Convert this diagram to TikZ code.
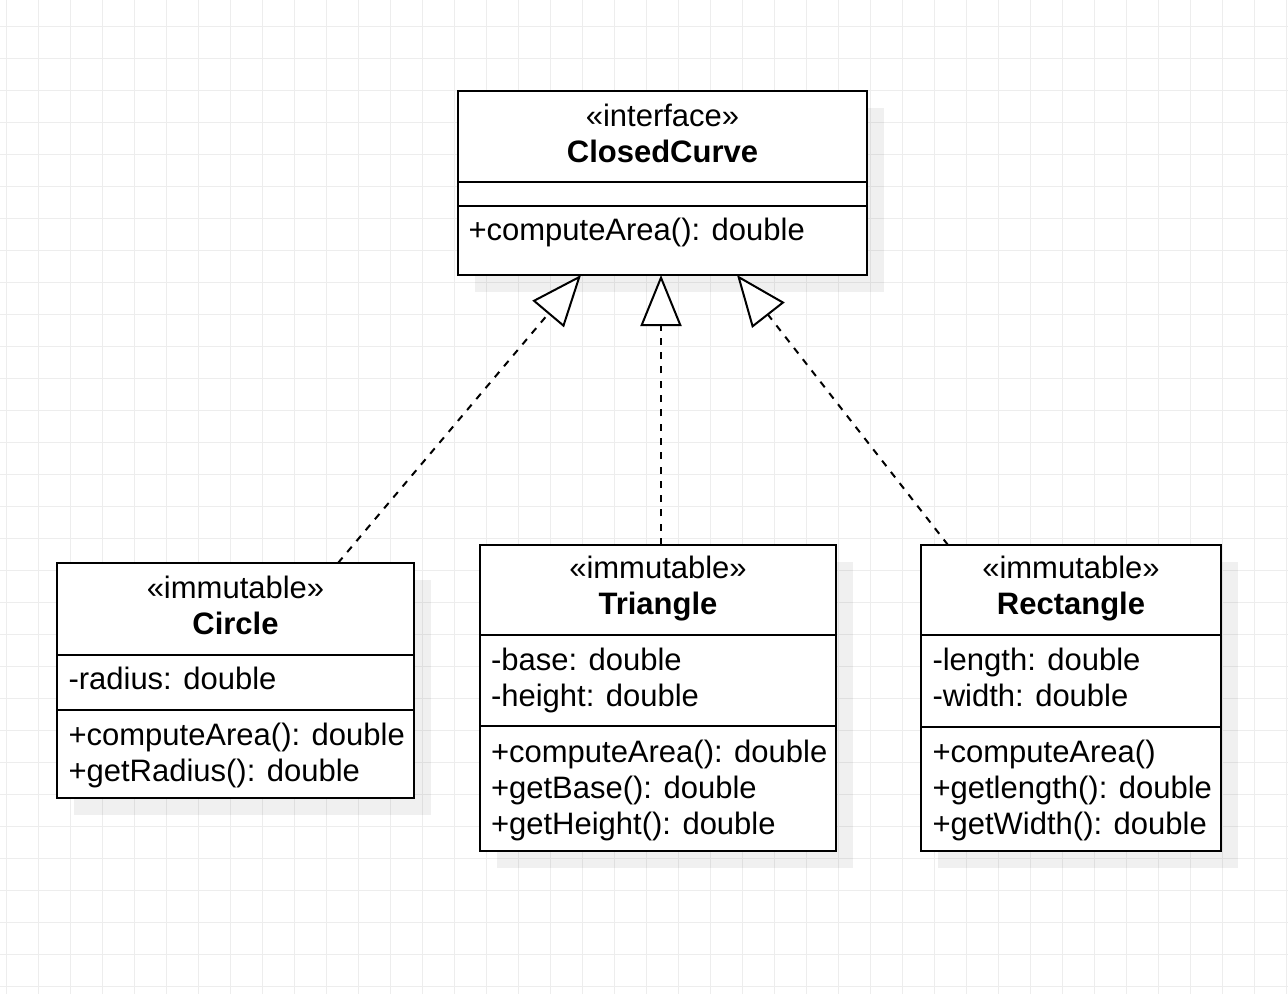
\documentclass[tikz,border=0pt]{standalone}
\usepackage{fontspec}
\setmainfont{Liberation Sans}
\usetikzlibrary{arrows.meta,calc,backgrounds}
\definecolor{gridgray}{RGB}{237,237,237}
\tikzset{
  gridline/.style={draw=gridgray, line width=1pt},
  shadowbox/.style={fill=black, fill opacity=0.06, draw=none},
  classbox/.style={draw=black, fill=white, line width=2pt, inner sep=0pt, outer sep=0pt},
  sepline/.style={draw=black, line width=2pt},
  txt/.style={inner sep=0pt, outer sep=0pt, font=\fontsize{31}{36}\selectfont, anchor=base west},
  ttl/.style={txt, anchor=base},
  btl/.style={ttl, font=\fontsize{31}{36}\selectfont\bfseries},
  realize/.style={draw=black, line width=2pt, dash pattern=on 7pt off 7.3pt,
    -{Triangle[open, length=51pt, width=41pt, fill=white]}}
}
\begin{document}
\begin{tikzpicture}[x=1pt,y=-1pt]
\useasboundingbox (0,0) rectangle (1288,994);

% class boxes
\node[classbox, minimum width=409pt, minimum height=184pt] (cc) at (662.5,183) {};
\node[classbox, minimum width=357pt, minimum height=235pt] (circ) at (235.5,680.5) {};
\node[classbox, minimum width=356pt, minimum height=306pt] (tri) at (658,698) {};
\node[classbox, minimum width=300pt, minimum height=306pt] (rect) at (1071,698) {};

% compartments
\draw[sepline] (cc.west |- 0,182) -- (cc.east |- 0,182);
\draw[sepline] (cc.west |- 0,206) -- (cc.east |- 0,206);
\draw[sepline] (circ.west |- 0,655) -- (circ.east |- 0,655);
\draw[sepline] (circ.west |- 0,710) -- (circ.east |- 0,710);
\draw[sepline] (tri.west |- 0,635) -- (tri.east |- 0,635);
\draw[sepline] (tri.west |- 0,726) -- (tri.east |- 0,726);
\draw[sepline] (rect.west |- 0,635) -- (rect.east |- 0,635);
\draw[sepline] (rect.west |- 0,727) -- (rect.east |- 0,727);

% ClosedCurve texts
\node[ttl] (cc-st) at (662.5,126) {«interface»};
\node[btl] (cc-nm) at (662.5,162) {ClosedCurve};
\node[txt] (cc-m1) at (468.5,240) {+computeArea(): double};

% Circle texts
\node[ttl] (ci-st) at (235.5,598.5) {«immutable»};
\node[btl] (ci-nm) at (235.5,634.5) {Circle};
\node[txt] (ci-a1) at (68.5,689) {-radius: double};
\node[txt] (ci-m1) at (68.5,745) {+computeArea(): double};
\node[txt] (ci-m2) at (68.5,781) {+getRadius(): double};

% Triangle texts
\node[ttl] (tr-st) at (658,578.5) {«immutable»};
\node[btl] (tr-nm) at (658,614.5) {Triangle};
\node[txt] (tr-a1) at (491,670.5) {-base: double};
\node[txt] (tr-a2) at (491,706.5) {-height: double};
\node[txt] (tr-m1) at (491,762) {+computeArea(): double};
\node[txt] (tr-m2) at (491,798) {+getBase(): double};
\node[txt] (tr-m3) at (491,834) {+getHeight(): double};

% Rectangle texts
\node[ttl] (re-st) at (1071,578.5) {«immutable»};
\node[btl] (re-nm) at (1071,614.5) {Rectangle};
\node[txt] (re-a1) at (932.5,670.5) {-length: double};
\node[txt] (re-a2) at (932.5,706.5) {-width: double};
\node[txt] (re-m1) at (932.5,762) {+computeArea()};
\node[txt] (re-m2) at (932.5,798) {+getlength(): double};
\node[txt] (re-m3) at (932.5,834) {+getWidth(): double};

% connector end points
\coordinate (cc-l) at ($(cc.south west)+(123,0)$);
\coordinate (cc-m) at ($(cc.south west)+(203,0)$);
\coordinate (cc-r) at ($(cc.south west)+(279,0)$);
\coordinate (circ-t) at ($(circ.north west)+(281,0)$);
\coordinate (tri-t) at ($(tri.north west)+(181,0)$);
\coordinate (rect-t) at ($(rect.north west)+(27,0)$);

\draw[realize] (circ-t) -- (cc-l);
\draw[realize] (tri-t) -- (cc-m);
\draw[realize] (rect-t) -- (cc-r);

\begin{pgfonlayer}{background}
  \fill[white] (0,0) rectangle (1288,994);
  \foreach \gx in {6,38,...,1286} \draw[gridline] (\gx,0) -- (\gx,994);
  \foreach \gy in {26,58,...,986} \draw[gridline] (0,\gy) -- (1288,\gy);
  \foreach \b in {cc,circ,tri,rect}
    \fill[shadowbox] ($(\b.north west)+(17,17)$) rectangle ($(\b.south east)+(17,17)$);
\end{pgfonlayer}
\end{tikzpicture}
\end{document}
